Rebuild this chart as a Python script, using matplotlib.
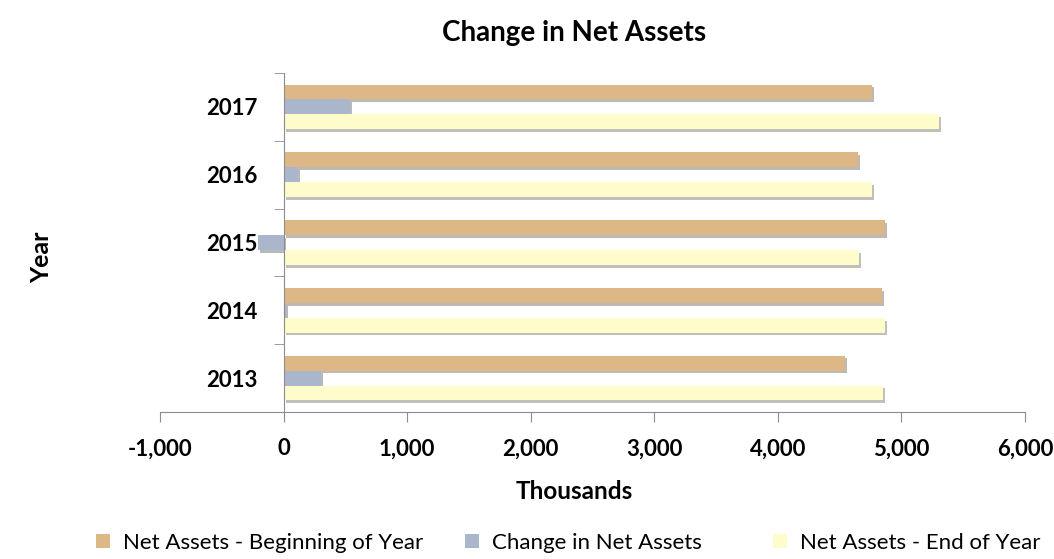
import numpy as np
import matplotlib.pyplot as plt
import matplotlib.patheffects as pe
from matplotlib.ticker import FuncFormatter, FixedLocator

anii = ['2013', '2014', '2015', '2016', '2017']
inceput_an = [4545, 4845, 4866, 4648, 4764]
schimbare = [305, 20, -208, 113, 537]
sfarsit_an = [4850, 4865, 4658, 4761, 5301]

culori = ['#DDB886', '#A9B6CB', '#FFFCCB']
etichete = ['Net Assets - Beginning of Year', 'Change in Net Assets', 'Net Assets - End of Year']

plt.rcParams['font.family'] = ['Lato', 'DejaVu Sans']

fig = plt.figure(figsize=(10.54, 5.59), dpi=100)
ax = fig.add_axes([0.1518, 0.263, 0.8207, 0.6064])

y = np.arange(len(anii))
h = 0.22
umbra = [pe.SimplePatchShadow(offset=(1.5, -2), alpha=0.35), pe.Normal()]
serii = [inceput_an, schimbare, sfarsit_an]
containere = []
for k, (vals, col, lab) in enumerate(zip(serii, culori, etichete)):
    bars = ax.barh(y + (1 - k) * h, vals, height=h, color=col, label=lab, zorder=2)
    for b in bars:
        b.set_path_effects(umbra)
    containere.append(bars)

ax.set_xlim(-1000, 6000)
ax.set_ylim(-0.5, len(anii) - 0.5)
ax.xaxis.set_major_locator(FixedLocator(np.arange(-1000, 6001, 1000)))
ax.xaxis.set_major_formatter(FuncFormatter(lambda v, p: f'{int(v):,}'))
ax.set_yticks(y)
ax.set_yticklabels(anii)
ax.set_yticks(np.arange(-0.5, len(anii), 1), minor=True)

for s in ['top', 'right']:
    ax.spines[s].set_visible(False)
ax.spines['left'].set_position(('data', 0))
ax.spines['left'].set_color('#8c8c8c')
ax.spines['bottom'].set_color('#8c8c8c')
ax.spines['left'].set_zorder(3)

ax.tick_params(axis='y', which='major', length=0, pad=19, labelsize=16)
ax.tick_params(axis='y', which='minor', length=7, color='#8c8c8c', direction='out')
ax.tick_params(axis='x', length=7, color='#8c8c8c', direction='out', pad=12, labelsize=16)
for t in ax.get_xticklabels() + ax.get_yticklabels():
    t.set_fontweight('bold')

fig.text(0.5446, 0.941, 'Change in Net Assets', fontsize=20, fontweight='bold', ha='center', va='center')
fig.text(0.5446, 0.12, 'Thousands', fontsize=17.5, fontweight='bold', ha='center', va='center')
fig.text(0.0398, 0.54, 'Year', rotation=90, fontsize=18, fontweight='bold', ha='center', va='center')

# cate o legenda pentru fiecare serie, ca sa pot pune patratelele unde sunt in original
pozitii_x = [96 / 1054, 465 / 1054, 773 / 1054]
for cont, lab, px in zip(containere, etichete, pozitii_x):
    leg = fig.legend([cont], [lab], loc='center left', bbox_to_anchor=(px, 0.0286), frameon=False,
                     fontsize=16, borderpad=0, borderaxespad=0, handlelength=0.62, handleheight=0.62,
                     handletextpad=0.6)
    for hnd in leg.legend_handles:
        hnd.set_path_effects([])

plt.savefig('out.png', dpi=100)
